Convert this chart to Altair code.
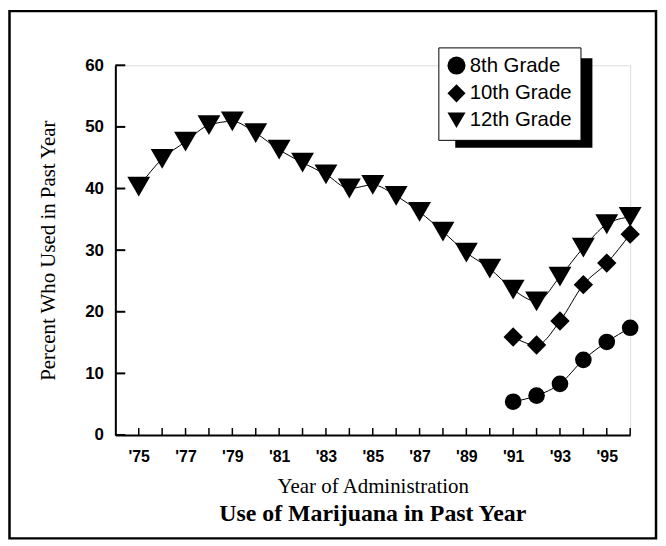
import altair as alt
import pandas as pd

# ---- data ----
years_12 = list(range(1975, 1997))
grade12 = [40.3, 44.8, 47.6, 50.3, 50.9, 49.0, 46.3, 44.2, 42.3, 40.0, 40.6,
           38.8, 36.2, 33.0, 29.6, 27.0, 23.6, 21.7, 25.7, 30.4, 34.2, 35.4]
years_8_10 = list(range(1991, 1997))
grade10 = [15.9, 14.6, 18.5, 24.4, 27.9, 32.6]
grade8 = [5.4, 6.4, 8.3, 12.2, 15.1, 17.4]

grades = ["8th Grade", "10th Grade", "12th Grade"]
shapes = ["circle", "diamond", "triangle-down"]
sizes = [280, 380, 530]

x_tick_years = list(range(1975, 1997))
x_label_years = list(range(1975, 1996, 2))
y_tick_values = [0, 10, 20, 30, 40, 50, 60]

rows = []
for g, yrs, vals in [("8th Grade", years_8_10, grade8),
                     ("10th Grade", years_8_10, grade10),
                     ("12th Grade", years_12, grade12)]:
    for yr, v in zip(yrs, vals):
        rows.append({"year": yr, "value": v, "grade": g})
df = pd.DataFrame(rows)
xticks_df = pd.DataFrame({"year": x_tick_years})
yticks_df = pd.DataFrame({"value": y_tick_values})
one = pd.DataFrame({"a": [0]})

W, H = 518, 372

xaxis = alt.Axis(
    values=x_label_years, labelExpr="\"'\" + slice(toString(datum.value), 2)",
    ticks=False, grid=False, domainColor="black", domainWidth=2,
    labelFont="Liberation Sans", labelFontSize=16, labelFontWeight="bold",
    labelColor="black", labelPadding=14,
    title="Year of Administration", titleFont="Liberation Serif",
    titleFontSize=21, titleFontWeight="normal", titleColor="black",
    titlePadding=11,
)
yaxis = alt.Axis(
    values=y_tick_values, ticks=False, grid=False, domainColor="black",
    domainWidth=2, labelFont="Liberation Sans", labelFontSize=17,
    labelFontWeight="bold", labelColor="black", labelPadding=12,
    title="Percent Who Used in Past Year", titleFont="Liberation Serif",
    titleFontSize=21, titleFontWeight="normal", titleColor="black",
    titlePadding=26,
)
x_enc = alt.X("year:Q", scale=alt.Scale(domain=[1974, 1996], nice=False, zero=False), axis=xaxis)
y_enc = alt.Y("value:Q", scale=alt.Scale(domain=[0, 60], nice=False), axis=yaxis)

legend = alt.Legend(
    title=None, orient="none", legendX=325, legendY=-18,
    fillColor="white", strokeColor="black", padding=8,
    labelFont="Liberation Sans", labelFontSize=20.5, labelColor="black",
    symbolSize=330, symbolFillColor="black", symbolStrokeColor="black",
    rowPadding=3, labelOffset=3,
)
shape_enc = alt.Shape("grade:N", scale=alt.Scale(domain=grades, range=shapes), legend=legend)

frame = alt.Chart(one).mark_rect(filled=False, stroke="black", strokeWidth=2.5).encode(
    x=alt.value(-106.5), x2=alt.value(544), y=alt.value(-54.5), y2=alt.value(476)
)

shadow = alt.Chart(one).mark_rect(color="black").encode(
    x=alt.value(342), x2=alt.value(480), y=alt.value(-7), y2=alt.value(83)
)

lines = alt.Chart(df).mark_line(color="black", strokeWidth=1, interpolate="monotone").encode(
    x=x_enc, y=y_enc, detail="grade:N"
)

point_layers = []
for g, s in zip(grades, sizes):
    point_layers.append(
        alt.Chart(df).transform_filter(alt.datum.grade == g)
        .mark_point(filled=True, color="black", opacity=1, size=s)
        .encode(x=x_enc, y=y_enc, shape=shape_enc)
    )

xticks = alt.Chart(xticks_df).mark_rule(color="black", strokeWidth=1.5).encode(
    x=x_enc, y=alt.value(H), y2=alt.value(H - 7)
)
yticks = alt.Chart(yticks_df).mark_rule(color="black", strokeWidth=2).encode(
    y=y_enc, x=alt.value(0), x2=alt.value(10)
)

chart = alt.layer(frame, shadow, lines, xticks, yticks, *point_layers).properties(
    width=W, height=H,
    autosize=alt.AutoSizeParams(type="none"),
    padding={"left": 108, "top": 56, "right": 28, "bottom": 106},
    title=alt.TitleParams("Use of Marijuana in Past Year", orient="bottom",
                          anchor="middle", font="Liberation Serif", fontSize=24,
                          fontWeight="bold", color="black", offset=-38),
).configure_view(stroke=None).configure(background="white")

chart.save("out.html", embed_options={"renderer": "svg", "actions": False})
